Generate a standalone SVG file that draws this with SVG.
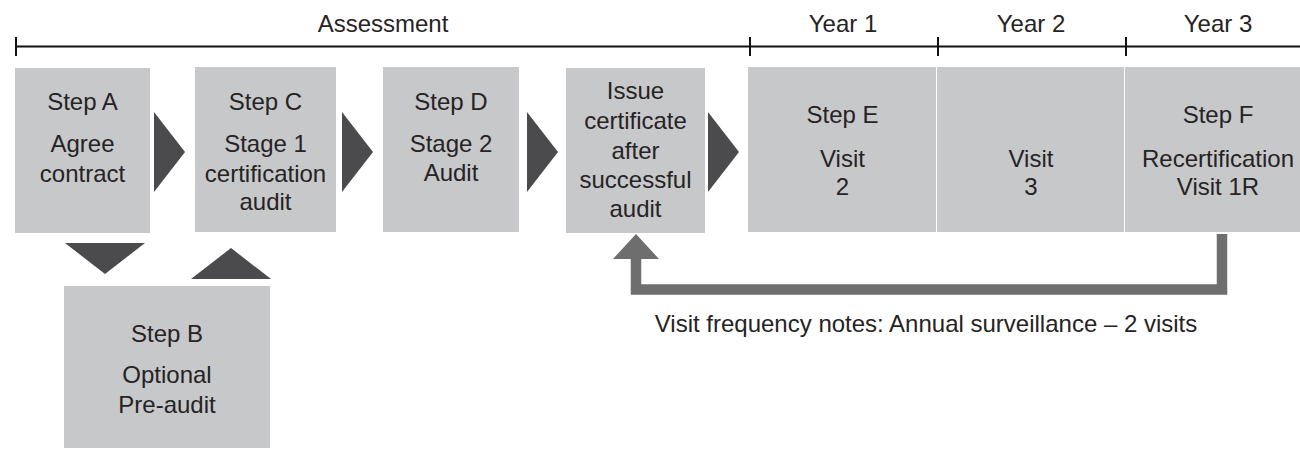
<svg xmlns="http://www.w3.org/2000/svg" width="1300" height="449" viewBox="0 0 1300 449">
<style>
  .box { fill: #c7c8ca; }
  .t { font-family: "Liberation Sans", Arial, sans-serif; font-size: 24px; fill: #262324; text-anchor: middle; }
  .axis { stroke: #111; stroke-width: 2; fill: none; }
  .chev { fill: #4b4b4d; }
  .ret { stroke: #6e6e6e; stroke-width: 10.5; fill: none; stroke-linejoin: miter; }
</style>
<defs>
  <marker id="ah" markerUnits="userSpaceOnUse" markerWidth="26" markerHeight="47" refX="0" refY="23" orient="auto" viewBox="0 0 26 47">
    <path d="M0,0 L25,23 L0,46 Z" fill="#6e6e6e"/>
  </marker>
</defs>
<rect width="1300" height="449" fill="#fff"/>

<g id="timeline">
  <line class="axis" x1="16" y1="46.5" x2="1300" y2="46.5"/>
  <line class="axis" x1="16" y1="37" x2="16" y2="56"/>
  <line class="axis" x1="750" y1="37" x2="750" y2="56"/>
  <line class="axis" x1="938" y1="37" x2="938" y2="56"/>
  <line class="axis" x1="1126" y1="37" x2="1126" y2="56"/>
  <text class="t" x="383" y="32">Assessment</text>
  <text class="t" x="843" y="32">Year 1</text>
  <text class="t" x="1031" y="32">Year 2</text>
  <text class="t" x="1218" y="32">Year 3</text>
</g>

<g id="stepA">
  <rect class="box" x="15" y="68" width="135" height="165"/>
  <text class="t" x="82.5" y="110">Step A</text>
  <text class="t" x="82.5" y="152">Agree</text>
  <text class="t" x="82.5" y="182">contract</text>
</g>
<g id="stepC">
  <rect class="box" x="195" y="67" width="141" height="165"/>
  <text class="t" x="265.5" y="110">Step C</text>
  <text class="t" x="265.5" y="152">Stage 1</text>
  <text class="t" x="265.5" y="182">certification</text>
  <text class="t" x="265.5" y="210">audit</text>
</g>
<g id="stepD">
  <rect class="box" x="383" y="67" width="136" height="165"/>
  <text class="t" x="451" y="110">Step D</text>
  <text class="t" x="451" y="152">Stage 2</text>
  <text class="t" x="451" y="181">Audit</text>
</g>
<g id="issue">
  <rect class="box" x="566" y="68" width="139" height="165"/>
  <text class="t" x="635.5" y="99">Issue</text>
  <text class="t" x="635.5" y="129">certificate</text>
  <text class="t" x="635.5" y="159">after</text>
  <text class="t" x="635.5" y="188">successful</text>
  <text class="t" x="635.5" y="217">audit</text>
</g>
<g id="stepE">
  <rect class="box" x="748" y="67" width="188" height="165"/>
  <text class="t" x="842.5" y="123">Step E</text>
  <text class="t" x="842.5" y="167">Visit</text>
  <text class="t" x="842.5" y="195">2</text>
</g>
<g id="visit3">
  <rect class="box" x="937" y="67" width="187" height="165"/>
  <text class="t" x="1031" y="167">Visit</text>
  <text class="t" x="1031" y="195">3</text>
</g>
<g id="stepF">
  <rect class="box" x="1125" y="67" width="175" height="165"/>
  <text class="t" x="1218" y="123">Step F</text>
  <text class="t" x="1218" y="167">Recertification</text>
  <text class="t" x="1218" y="195">Visit 1R</text>
</g>
<g id="stepB">
  <rect class="box" x="64" y="286" width="206" height="162"/>
  <text class="t" x="167" y="342">Step B</text>
  <text class="t" x="167" y="383">Optional</text>
  <text class="t" x="167" y="413">Pre-audit</text>
</g>

<g id="connectors">
  <polygon class="chev" points="154,112 185,152 154,192"/>
  <polygon class="chev" points="342,112 373,152 342,192"/>
  <polygon class="chev" points="527,112 558,152 527,192"/>
  <polygon class="chev" points="708,112 739,152 708,192"/>
  <polygon class="chev" points="65,243 145,243 105,274"/>
  <polygon class="chev" points="191,279 271,279 231,248"/>
  <path class="ret" d="M1222,234 V289.5 H636 V259" marker-end="url(#ah)"/>
</g>

<text class="t" x="926" y="332">Visit frequency notes: Annual surveillance – 2 visits</text>
</svg>
